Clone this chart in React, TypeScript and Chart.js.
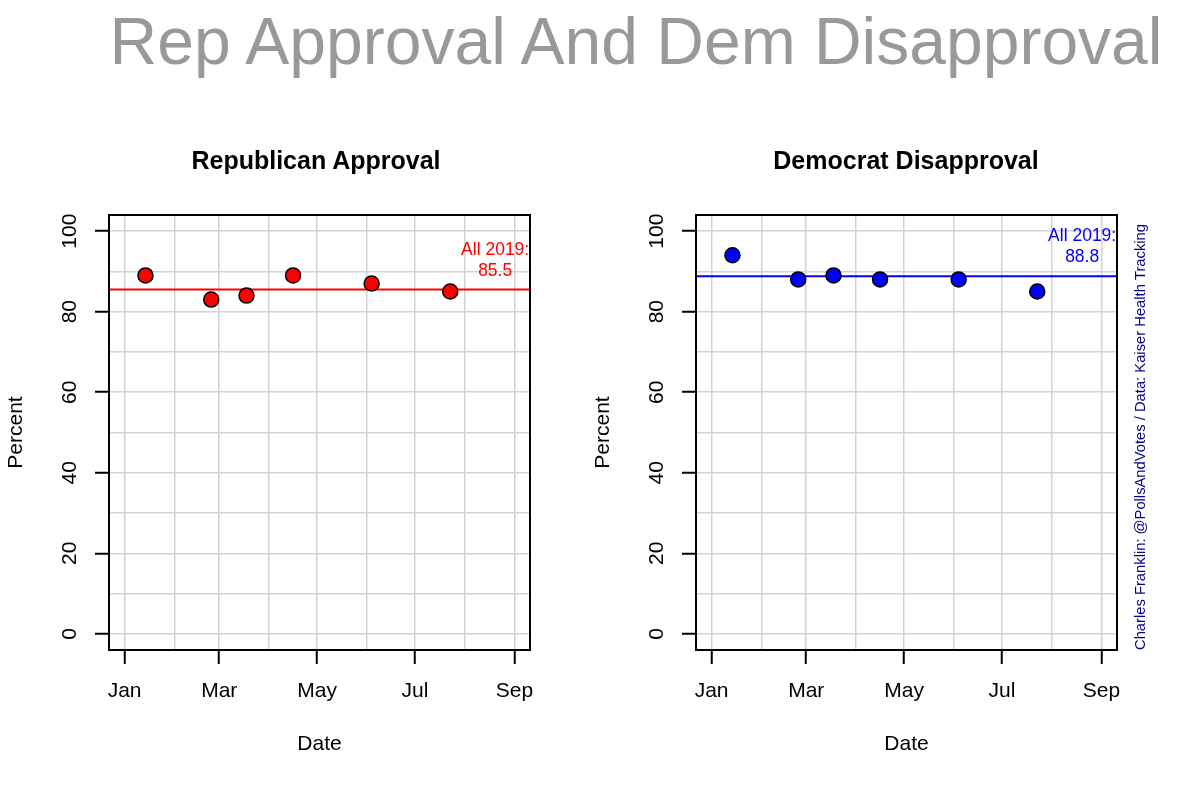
import React, { useEffect, useRef } from 'react';
import { Chart, registerables } from 'chart.js';

Chart.register(...registerables);

const FONT = "'Liberation Sans', Arial, Helvetica, sans-serif";

// ---- data ----
const pollDates = ['2019-01-14', '2019-02-24', '2019-03-18', '2019-04-16', '2019-06-04', '2019-07-23'];
const repApproval = [89, 83, 84, 89, 87, 85];
const demDisapproval = [94, 88, 89, 88, 88, 85];
const repMean2019 = 85.5;
const demMean2019 = 88.8;
const monthTickDates = ['2019-01-01', '2019-02-01', '2019-03-01', '2019-04-01', '2019-05-01', '2019-06-01', '2019-07-01', '2019-08-01', '2019-09-01'];
const monthTickLabels = ['Jan', 'Feb', 'Mar', 'Apr', 'May', 'Jun', 'Jul', 'Aug', 'Sep'];
const yGridValues = [0, 10, 20, 30, 40, 50, 60, 70, 80, 90, 100];
const yTickLabels = [0, 20, 40, 60, 80, 100];
const annotationDate = '2019-08-20';
const mainTitle = 'Rep Approval And Dem Disapproval';
const repTitle = 'Republican Approval';
const demTitle = 'Democrat Disapproval';
const creditText = 'Charles Franklin: @PollsAndVotes / Data: Kaiser Health Tracking';

const ORIGIN = Date.parse('2019-01-01');
const dayOf = (s: string) => (Date.parse(s) - ORIGIN) / 86400000;

const monthDays = monthTickDates.map(dayOf);
const xFirst = monthDays[0];
const xLast = monthDays[monthDays.length - 1];
const xPad = (xLast - xFirst) * 0.04;
const X_MIN = xFirst - xPad;
const X_MAX = xLast + xPad;
const Y_MIN = -4;
const Y_MAX = 104;

type PanelProps = {
  values: number[];
  mean: number;
  color: string;
  canvasW: number;
  boxLeft: number;
  boxRight: number;
  credit?: string;
};

function Panel({ values, mean, color, canvasW, boxLeft, boxRight, credit }: PanelProps) {
  const ref = useRef<HTMLCanvasElement | null>(null);
  useEffect(() => {
    if (!ref.current) return;
    const W = canvasW;
    const H = 800;
    const boxTop = 215;
    const boxBottom = 650;
    const xScaleH = 107;
    const decor = {
      id: 'panelDecor',
      afterDatasetsDraw(chart: any) {
        const { ctx, scales } = chart;
        const x = scales.x;
        const y = scales.y;
        const ax = x.getPixelForValue(dayOf(annotationDate));
        const ay = y.getPixelForValue(mean);
        ctx.save();
        ctx.fillStyle = color;
        ctx.font = `17.5px ${FONT}`;
        ctx.textAlign = 'center';
        ctx.textBaseline = 'alphabetic';
        ctx.fillText('All 2019:', ax, ay - 35);
        ctx.fillText(mean.toFixed(1), ax, ay - 14);
        ctx.restore();
      },
      afterDraw(chart: any) {
        const { ctx, chartArea: a, scales } = chart;
        const y = scales.y;
        ctx.save();
        ctx.strokeStyle = '#000';
        ctx.lineWidth = 2;
        ctx.strokeRect(a.left, a.top, a.right - a.left, a.bottom - a.top);
        ctx.fillStyle = '#000';
        ctx.font = `21px ${FONT}`;
        ctx.textAlign = 'center';
        ctx.textBaseline = 'middle';
        for (const v of yTickLabels) {
          const py = y.getPixelForValue(v);
          ctx.save();
          ctx.translate(a.left - 39, py);
          ctx.rotate(-Math.PI / 2);
          ctx.fillText(String(v), 0, 0);
          ctx.restore();
        }
        ctx.save();
        ctx.translate(a.left - 93, (a.top + a.bottom) / 2);
        ctx.rotate(-Math.PI / 2);
        ctx.fillText('Percent', 0, 0);
        ctx.restore();
        if (credit) {
          ctx.save();
          ctx.translate(a.right + 28, a.bottom);
          ctx.rotate(-Math.PI / 2);
          ctx.fillStyle = '#00008B';
          ctx.font = `14.75px ${FONT}`;
          ctx.textAlign = 'left';
          ctx.textBaseline = 'alphabetic';
          ctx.fillText(credit, 0, 0);
          ctx.restore();
        }
        ctx.restore();
      },
    };
    const chart = new Chart(ref.current, {
      type: 'scatter',
      data: {
        datasets: [
          {
            type: 'scatter',
            data: pollDates.map((d, i) => ({ x: dayOf(d), y: values[i] })),
            pointRadius: 7.5,
            pointHoverRadius: 7.5,
            pointBackgroundColor: color,
            pointBorderColor: '#000',
            pointBorderWidth: 1.5,
            showLine: false,
          },
          {
            type: 'line',
            data: [
              { x: X_MIN, y: mean },
              { x: X_MAX, y: mean },
            ],
            borderColor: color,
            borderWidth: 2,
            pointRadius: 0,
            showLine: true,
          },
        ],
      } as any,
      options: {
        responsive: false,
        animation: false,
        events: [],
        layout: {
          padding: { left: 0, top: boxTop, right: W - boxRight, bottom: H - boxBottom - xScaleH },
        },
        plugins: {
          legend: { display: false },
          tooltip: { enabled: false },
          title: { display: false },
        },
        scales: {
          x: {
            type: 'linear',
            min: X_MIN,
            max: X_MAX,
            afterBuildTicks: (s: any) => {
              s.ticks = monthDays.map((v) => ({ value: v }));
            },
            afterFit: (s: any) => {
              s.height = xScaleH;
            },
            border: { display: false },
            grid: {
              color: '#d3d3d3',
              lineWidth: 1.5,
              drawTicks: true,
              tickLength: 14,
              tickWidth: 2,
              tickColor: (c: any) => {
                const idx = monthDays.indexOf(c.tick?.value);
                return idx >= 0 && idx % 2 === 0 ? '#000' : 'rgba(0,0,0,0)';
              },
            },
            ticks: {
              autoSkip: false,
              maxRotation: 0,
              minRotation: 0,
              padding: 15,
              color: '#000',
              font: { family: FONT, size: 21 },
              callback: (v: any) => {
                const idx = monthDays.indexOf(Number(v));
                return idx >= 0 && idx % 2 === 0 ? monthTickLabels[idx] : '';
              },
            },
            title: {
              display: true,
              text: 'Date',
              color: '#000',
              font: { family: FONT, size: 21 },
              padding: { top: 0, bottom: 0 },
            },
          },
          y: {
            type: 'linear',
            min: Y_MIN,
            max: Y_MAX,
            afterBuildTicks: (s: any) => {
              s.ticks = yGridValues.map((v) => ({ value: v }));
            },
            afterFit: (s: any) => {
              s.width = boxLeft;
            },
            border: { display: false },
            grid: {
              color: '#d3d3d3',
              lineWidth: 1.5,
              drawTicks: true,
              tickLength: 14,
              tickWidth: 2,
              tickColor: (c: any) =>
                yTickLabels.includes(c.tick?.value) ? '#000' : 'rgba(0,0,0,0)',
            },
            ticks: { display: false },
          },
        },
      } as any,
      plugins: [decor],
    });
    return () => chart.destroy();
  }, [values, mean, color, canvasW, boxLeft, boxRight, credit]);
  return (
    <canvas
      ref={ref}
      width={canvasW}
      height={800}
      style={{ width: canvasW, height: 800, display: 'block' }}
    />
  );
}

export default function App() {
  return (
    <div
      style={{
        position: 'absolute',
        left: 0,
        top: 0,
        width: 1200,
        height: 800,
        background: '#fff',
        overflow: 'hidden',
        fontFamily: FONT,
      }}
    >
      <div style={{ position: 'absolute', left: 0, top: 0 }}>
        <Panel
          values={repApproval}
          mean={repMean2019}
          color="#FF0000"
          canvasW={580}
          boxLeft={109}
          boxRight={530}
        />
      </div>
      <div style={{ position: 'absolute', left: 580, top: 0 }}>
        <Panel
          values={demDisapproval}
          mean={demMean2019}
          color="#0000FF"
          canvasW={620}
          boxLeft={116}
          boxRight={537}
          credit={creditText}
        />
      </div>
      <div
        style={{
          position: 'absolute',
          left: 0,
          top: 8,
          width: 1272,
          textAlign: 'center',
          fontSize: 66,
          lineHeight: '66px',
          color: '#999999',
          whiteSpace: 'nowrap',
        }}
      >
        {mainTitle}
      </div>
      <div
        style={{
          position: 'absolute',
          left: 0,
          top: 148,
          width: 632,
          textAlign: 'center',
          fontSize: 25,
          lineHeight: '25px',
          fontWeight: 'bold',
          color: '#000',
          whiteSpace: 'nowrap',
        }}
      >
        {repTitle}
      </div>
      <div
        style={{
          position: 'absolute',
          left: 600,
          top: 148,
          width: 612,
          textAlign: 'center',
          fontSize: 25,
          lineHeight: '25px',
          fontWeight: 'bold',
          color: '#000',
          whiteSpace: 'nowrap',
        }}
      >
        {demTitle}
      </div>
    </div>
  );
}
